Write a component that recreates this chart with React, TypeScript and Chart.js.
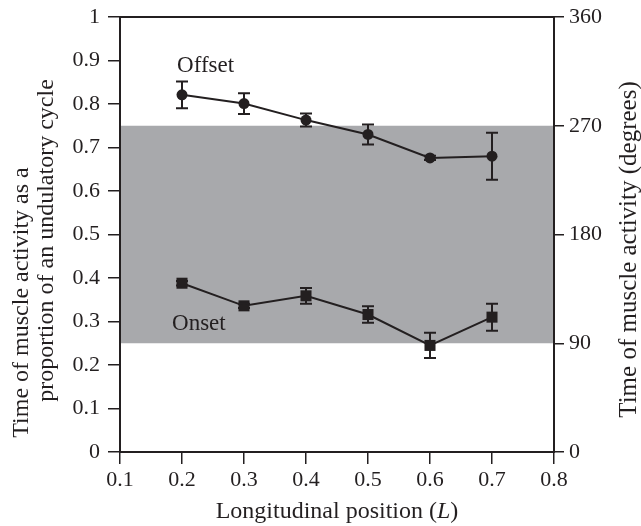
import React, { useEffect, useRef } from "react";
import { Chart, registerables } from "chart.js";
Chart.register(...registerables);

const positions = [0.2, 0.3, 0.4, 0.5, 0.6, 0.7];
const offsetMean = [0.821, 0.801, 0.763, 0.73, 0.676, 0.68];
const offsetErr = [0.031, 0.024, 0.015, 0.023, 0.005, 0.054];
const onsetMean = [0.388, 0.336, 0.359, 0.316, 0.245, 0.31];
const onsetErr = [0.005, 0.005, 0.018, 0.019, 0.029, 0.031];
const bandRange = [0.25, 0.75];
const leftTitle = ["Time of muscle activity as a", "proportion of an undulatory cycle"];
const rightTitle = "Time of muscle activity (degrees)";
const xTitleParts = ["Longitudinal position (", "L", ")"];

const FONT = "'Liberation Serif', 'Times New Roman', serif";
const INK = "#231f20";
const FS = 22;
const TFS = 24;

export default function App() {
  const ref = useRef<HTMLCanvasElement>(null);
  useEffect(() => {
    const canvas = ref.current!;
    const bandPlugin = {
      id: "band",
      beforeDraw(chart: any) {
        const { ctx, chartArea, scales } = chart;
        const y = scales.y;
        const t = y.getPixelForValue(bandRange[1]);
        const b = y.getPixelForValue(bandRange[0]);
        ctx.save();
        ctx.fillStyle = "#a8a9ac";
        ctx.fillRect(chartArea.left, t, chartArea.right - chartArea.left, b - t);
        ctx.restore();
      },
    };
    const decoPlugin = {
      id: "deco",
      afterDatasetsDraw(chart: any) {
        const { ctx, chartArea, scales } = chart;
        const x = scales.x;
        const y = scales.y;
        ctx.save();
        ctx.strokeStyle = INK;
        ctx.fillStyle = INK;
        const drawErr = (means: number[], errs: number[]) => {
          ctx.lineWidth = 2;
          means.forEach((m, i) => {
            const px = x.getPixelForValue(positions[i]);
            const hi = y.getPixelForValue(m + errs[i]);
            const lo = y.getPixelForValue(m - errs[i]);
            ctx.beginPath();
            ctx.moveTo(px, hi);
            ctx.lineTo(px, lo);
            ctx.moveTo(px - 6, hi);
            ctx.lineTo(px + 6, hi);
            ctx.moveTo(px - 6, lo);
            ctx.lineTo(px + 6, lo);
            ctx.stroke();
          });
        };
        drawErr(offsetMean, offsetErr);
        drawErr(onsetMean, onsetErr);
        // frame
        ctx.lineWidth = 2;
        ctx.strokeRect(chartArea.left, chartArea.top, chartArea.right - chartArea.left, chartArea.bottom - chartArea.top);
        // series labels
        ctx.font = `23px ${FONT}`;
        ctx.textBaseline = "alphabetic";
        ctx.textAlign = "left";
        ctx.fillText("Offset", x.getPixelForValue(0.192), y.getPixelForValue(0.8736));
        ctx.fillText("Onset", x.getPixelForValue(0.1839), y.getPixelForValue(0.2805));
        // x title with italic L
        ctx.font = `${TFS}px ${FONT}`;
        const w0 = ctx.measureText(xTitleParts[0]).width;
        ctx.font = `italic ${TFS}px ${FONT}`;
        const w1 = ctx.measureText(xTitleParts[1]).width;
        ctx.font = `${TFS}px ${FONT}`;
        const w2 = ctx.measureText(xTitleParts[2]).width;
        const total = w0 + w1 + w2;
        const sx = (chartArea.left + chartArea.right) / 2 - total / 2;
        const ty = chartArea.bottom + 66;
        ctx.fillText(xTitleParts[0], sx, ty);
        ctx.font = `italic ${TFS}px ${FONT}`;
        ctx.fillText(xTitleParts[1], sx + w0, ty);
        ctx.font = `${TFS}px ${FONT}`;
        ctx.fillText(xTitleParts[2], sx + w0 + w1, ty);
        // left title, two lines reading bottom to top
        const midY = (chartArea.top + chartArea.bottom) / 2;
        ctx.textAlign = "center";
        ctx.textBaseline = "middle";
        ctx.save();
        ctx.translate(22, midY + 68);
        ctx.rotate(-Math.PI / 2);
        ctx.fillText(leftTitle[0], 0, 0);
        ctx.restore();
        ctx.save();
        ctx.translate(47, midY + 6);
        ctx.rotate(-Math.PI / 2);
        ctx.fillText(leftTitle[1], 0, 0);
        ctx.restore();
        // right title (reads bottom to top)
        ctx.font = `25px ${FONT}`;
        ctx.translate(629, midY + 15);
        ctx.rotate(-Math.PI / 2);
        ctx.fillText(rightTitle, 0, 0);
        ctx.restore();
      },
    };

    const noPad = (s: any) => { s.paddingTop = 0; s.paddingBottom = 0; };

    const chart = new Chart(canvas, {
      type: "line",
      data: {
        datasets: [
          {
            label: "Offset",
            data: positions.map((p, i) => ({ x: p, y: offsetMean[i] })),
            borderColor: INK,
            backgroundColor: INK,
            borderWidth: 2,
            pointStyle: "circle",
            pointRadius: 5.5,
            pointBorderWidth: 0,
            yAxisID: "y",
          },
          {
            label: "Onset",
            data: positions.map((p, i) => ({ x: p, y: onsetMean[i] })),
            borderColor: INK,
            backgroundColor: INK,
            borderWidth: 2,
            pointStyle: "rect",
            pointRadius: 7.8,
            pointBorderWidth: 0,
            yAxisID: "y",
          },
        ],
      },
      options: {
        animation: false,
        responsive: false,
        layout: { padding: { top: 17, right: 0, left: 0, bottom: 0 } },
        plugins: { legend: { display: false }, tooltip: { enabled: false } },
        scales: {
          x: {
            type: "linear",
            min: 0.1,
            max: 0.8,
            afterFit: (s: any) => { s.height = 74; s.paddingLeft = 0; s.paddingRight = 0; },
            ticks: {
              stepSize: 0.1,
              color: INK,
              font: { family: FONT, size: FS },
              padding: 3,
              maxRotation: 0,
              callback: (v: any) => Number(v).toFixed(1),
            },
            grid: { drawOnChartArea: false, drawTicks: true, tickLength: 12, color: INK, lineWidth: 1.5 },
            border: { display: false },
          },
          y: {
            position: "left",
            min: 0,
            max: 1,
            afterFit: (s: any) => { s.width = 120; noPad(s); },
            ticks: {
              stepSize: 0.1,
              color: INK,
              font: { family: FONT, size: FS },
              padding: 8,
              callback: (v: any) => (v === 0 || v === 1 ? String(v) : Number(v).toFixed(1)),
            },
            grid: { drawOnChartArea: false, drawTicks: true, tickLength: 12, color: INK, lineWidth: 1.5 },
            border: { display: false },
          },
          y2: {
            position: "right",
            min: 0,
            max: 360,
            afterFit: (s: any) => { s.width = 87; noPad(s); },
            ticks: {
              stepSize: 90,
              color: INK,
              font: { family: FONT, size: FS },
              padding: 5,
            },
            grid: { drawOnChartArea: false, drawTicks: true, tickLength: 10, color: INK, lineWidth: 1.5 },
            border: { display: false },
          },
        },
      } as any,
      plugins: [bandPlugin, decoPlugin],
    });
    return () => chart.destroy();
  }, []);
  return (
    <div style={{ position: "fixed", left: 0, top: 0, width: 641, height: 526, background: "#fff" }}>
      <canvas ref={ref} width={641} height={526} style={{ width: 641, height: 526 }} />
    </div>
  );
}
